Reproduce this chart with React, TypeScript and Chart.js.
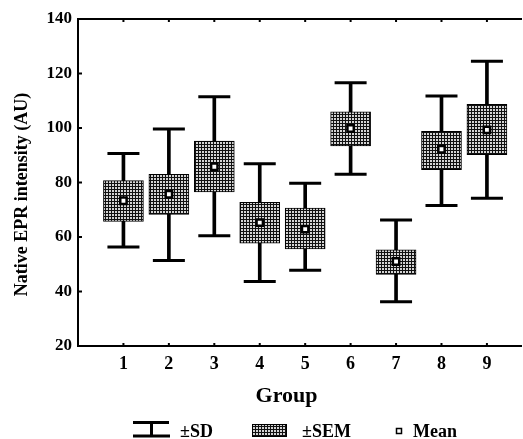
import React, { useEffect, useRef } from 'react';
import { Chart, registerables } from 'chart.js';

Chart.register(...registerables);

// ---- data ----
const groups = [1, 2, 3, 4, 5, 6, 7, 8, 9];
const means = [73.3, 75.7, 85.8, 65.3, 62.9, 99.8, 51.0, 92.2, 99.3];
const semLow = [65.7, 68.3, 76.5, 57.7, 55.6, 93.4, 46.3, 84.7, 90.2];
const semHigh = [80.7, 83.0, 95.2, 72.7, 70.6, 105.9, 55.3, 98.8, 108.7];
const sdLow = [56.3, 51.4, 60.5, 43.7, 47.8, 83.0, 36.2, 71.6, 74.2];
const sdHigh = [90.6, 99.6, 111.5, 86.9, 79.7, 116.6, 66.2, 111.7, 124.5];
const yTickValues = [20, 40, 60, 80, 100, 120, 140];
const yTitle = 'Native EPR intensity (AU)';
const xTitle = 'Group';
const legendSD = '±SD';
const legendSEM = '±SEM';
const legendMean = 'Mean';

const FONT = "'Liberation Serif', 'Times New Roman', serif";

function makePattern(): CanvasPattern | string {
  const c = document.createElement('canvas');
  c.width = 3;
  c.height = 3;
  const p = c.getContext('2d');
  if (!p) return '#777';
  p.fillStyle = '#d4d4d4';
  p.fillRect(0, 0, 3, 3);
  p.fillStyle = '#111';
  p.fillRect(0, 0, 3, 1);
  p.fillRect(0, 0, 1, 3);
  const pat = p.createPattern(c, 'repeat');
  return pat || '#777';
}

export default function App() {
  const ref = useRef<HTMLCanvasElement | null>(null);

  useEffect(() => {
    const canvas = ref.current;
    if (!canvas) return;
    const pattern = makePattern();

    const decor = {
      id: 'decor',
      afterDraw(chart: any) {
        const { ctx, chartArea, scales } = chart;
        const xs = scales.x;
        const ys = scales.y;
        ctx.save();
        ctx.strokeStyle = '#000';
        ctx.lineWidth = 2;
        // inward ticks on left axis
        yTickValues.forEach((v) => {
          if (v === yTickValues[0] || v === yTickValues[yTickValues.length - 1]) return;
          const py = ys.getPixelForValue(v);
          ctx.beginPath();
          ctx.moveTo(chartArea.left, py);
          ctx.lineTo(chartArea.left + 4, py);
          ctx.stroke();
        });
        // inward ticks on bottom and top edges
        groups.forEach((g) => {
          const px = xs.getPixelForValue(g);
          ctx.beginPath();
          ctx.moveTo(px, chartArea.bottom);
          ctx.lineTo(px, chartArea.bottom - 3);
          ctx.moveTo(px, chartArea.top);
          ctx.lineTo(px, chartArea.top + 3);
          ctx.stroke();
        });

        // axis titles
        ctx.fillStyle = '#000';
        ctx.font = `bold 18px ${FONT}`;
        ctx.textAlign = 'center';
        ctx.textBaseline = 'alphabetic';
        ctx.save();
        ctx.translate(27, 194.5);
        ctx.rotate(-Math.PI / 2);
        ctx.fillText(yTitle, 0, 0);
        ctx.restore();

        ctx.font = `bold 22px ${FONT}`;
        ctx.fillText(xTitle, 286.5, 401.5);

        // legend
        ctx.lineWidth = 3;
        ctx.beginPath();
        ctx.moveTo(133, 422.5);
        ctx.lineTo(169, 422.5);
        ctx.moveTo(133, 436);
        ctx.lineTo(170, 436);
        ctx.moveTo(151.5, 422.5);
        ctx.lineTo(151.5, 436);
        ctx.stroke();

        ctx.fillStyle = pattern as any;
        ctx.fillRect(252, 424, 35, 13);
        ctx.lineWidth = 1;
        ctx.strokeStyle = '#000';
        ctx.strokeRect(252.5, 424.5, 34, 12);

        ctx.fillStyle = '#fff';
        ctx.fillRect(396.5, 428.5, 5, 5);
        ctx.lineWidth = 1.5;
        ctx.strokeRect(396.5, 428.5, 5, 5);

        ctx.fillStyle = '#000';
        ctx.font = `bold 18px ${FONT}`;
        ctx.textAlign = 'left';
        ctx.fillText(legendSD, 180, 437);
        ctx.fillText(legendSEM, 302, 437);
        ctx.fillText(legendMean, 413, 437);
        ctx.restore();
      },
    };

    const tickFontY = { family: FONT, size: 17, weight: 'bold' as const };
    const tickFontX = { family: FONT, size: 18, weight: 'bold' as const };

    const chart = new Chart(canvas, {
      type: 'bar',
      data: {
        datasets: [
          {
            type: 'line',
            label: legendMean,
            data: groups.map((g, i) => ({ x: g, y: means[i] })),
            showLine: false,
            pointStyle: 'rect',
            pointRadius: 4.5,
            pointBorderWidth: 2.5,
            pointBackgroundColor: '#fff',
            pointBorderColor: '#000',
            order: 0,
          } as any,
          {
            type: 'bar',
            label: legendSEM,
            data: groups.map((g, i) => ({ x: g, y: [semLow[i], semHigh[i]] })),
            backgroundColor: pattern as any,
            borderColor: '#000',
            borderWidth: 1,
            borderSkipped: false,
            barThickness: 40,
            grouped: false,
            order: 1,
          } as any,
          {
            type: 'line',
            label: 'SD upper',
            data: groups.map((g, i) => ({ x: g, y: sdHigh[i] })),
            showLine: false,
            pointStyle: 'line',
            pointRadius: 16,
            pointBorderWidth: 3,
            pointBorderColor: '#000',
            order: 2,
          } as any,
          {
            type: 'line',
            label: 'SD lower',
            data: groups.map((g, i) => ({ x: g, y: sdLow[i] })),
            showLine: false,
            pointStyle: 'line',
            pointRadius: 16,
            pointBorderWidth: 3,
            pointBorderColor: '#000',
            order: 2,
          } as any,
          {
            type: 'bar',
            label: legendSD,
            data: groups.map((g, i) => ({ x: g, y: [sdLow[i], sdHigh[i]] })),
            backgroundColor: '#000',
            borderWidth: 0,
            barThickness: 3,
            grouped: false,
            order: 3,
          } as any,
        ],
      },
      options: {
        animation: false,
        responsive: false,
        events: [],
        layout: { autoPadding: false, padding: { top: 19, right: 2, bottom: 0, left: 0 } },
        plugins: { legend: { display: false }, tooltip: { enabled: false } },
        scales: {
          x: {
            type: 'linear',
            position: 'bottom',
            min: 0,
            max: 9.75,
            offset: false,
            afterBuildTicks: (s: any) => {
              s.ticks = groups.map((v) => ({ value: v }));
            },
            afterFit: (s: any) => {
              s.height = 93;
            },
            grid: { drawOnChartArea: false, drawTicks: false, offset: false },
            border: { display: true, color: '#000', width: 2 },
            ticks: {
              padding: 8,
              font: tickFontX,
              color: '#000',
              callback: (v: any) => String(v),
            },
          },
          x2: {
            type: 'linear',
            position: 'top',
            min: 0,
            max: 9.75,
            offset: false,
            afterFit: (s: any) => {
              s.height = 0;
            },
            grid: { drawOnChartArea: false, drawTicks: false, offset: false },
            border: { display: true, color: '#000', width: 2 },
            ticks: { display: false },
          },
          y: {
            type: 'linear',
            min: 20,
            max: 140,
            afterBuildTicks: (s: any) => {
              s.ticks = yTickValues.map((v) => ({ value: v }));
            },
            afterFit: (s: any) => {
              s.width = 78;
            },
            grid: { drawOnChartArea: false, drawTicks: false },
            border: { display: true, color: '#000', width: 2 },
            ticks: {
              padding: 6,
              font: tickFontY,
              color: '#000',
              callback: (v: any) => String(v),
            },
          },
        },
      } as any,
      plugins: [decor],
    });

    return () => {
      chart.destroy();
    };
  }, []);

  return (
    <div style={{ position: 'fixed', left: 0, top: 0, width: 523, height: 439, background: '#fff' }}>
      <canvas ref={ref} width={523} height={439} style={{ display: 'block' }} />
    </div>
  );
}
